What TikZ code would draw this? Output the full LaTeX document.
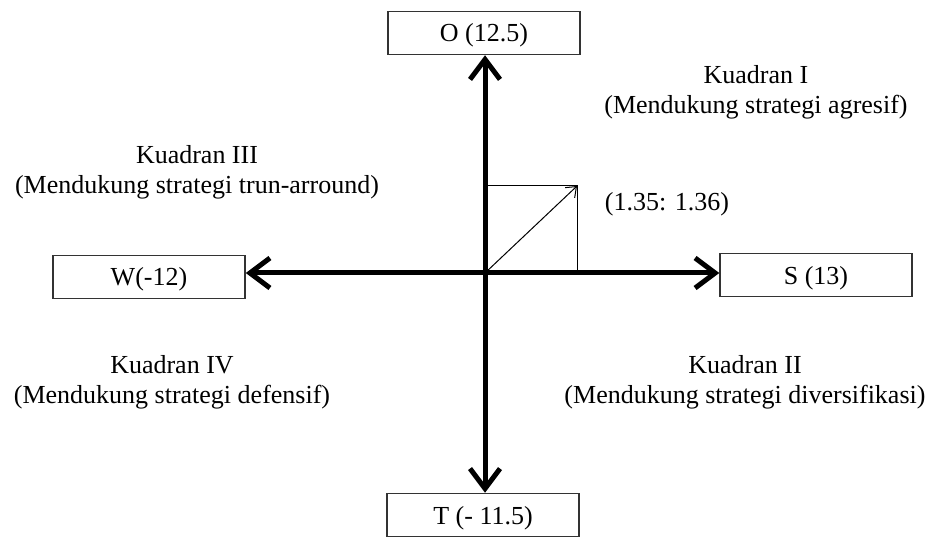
\documentclass[tikz,border=0pt]{standalone}
\usepackage{fontspec}
\setmainfont{Liberation Serif}
\usetikzlibrary{arrows.meta}
\begin{document}
\begin{tikzpicture}[x=1pt,y=-1pt,
  every node/.style={font=\fontsize{26}{30}\selectfont, inner sep=0pt},
  axisbox/.style={draw=black!80, line width=1.5pt, minimum width=192pt, minimum height=43pt,
    text height=18pt, text depth=0pt},
  axisarrow/.style={line width=5pt, -{Straight Barb[length=20pt,width=30pt,line width=5pt]}},
  vecarrow/.style={line width=1pt, -{Straight Barb[length=9pt,width=14pt,line width=1pt]}},
  label/.style={align=center}]
  \useasboundingbox (0,0) rectangle (932,540);

  % end boxes of the two axes
  \node[axisbox] (O) at (484,33) {O (12.5)};
  \node[axisbox] (T) at (483,515) {T (- 11.5)};
  \node[axisbox] (W) at (149,277) {W(-12)};
  \node[axisbox] (S) at (816,275) {S (13)};

  % origin and the plotted point
  \coordinate (c) at (485,273);
  \coordinate (p) at (577,186);

  % axes
  \draw[axisarrow] (c) -- (c |- O.south);
  \draw[axisarrow] (c) -- (c |- T.north);
  \draw[axisarrow] (c) -- (c -| W.east);
  \draw[axisarrow] (c) -- (c -| S.west);

  % position of the point
  \draw[line width=1pt] (c |- p) -- (p) -- (p |- c);
  \draw[vecarrow] (c) -- (p);
  \node (pt) at (667,204) {(1.35: 1.36)};

  % quadrant labels
  \node[label] (q1) at (756,92) {Kuadran I\\(Mendukung strategi agresif)};
  \node[label] (q3) at (197,172) {Kuadran III\\(Mendukung strategi trun-arround)};
  \node[label] (q4) at (172,382) {Kuadran IV\\(Mendukung strategi defensif)};
  \node[label] (q2) at (745,382) {Kuadran II\\(Mendukung strategi diversifikasi)};
\end{tikzpicture}
\end{document}
